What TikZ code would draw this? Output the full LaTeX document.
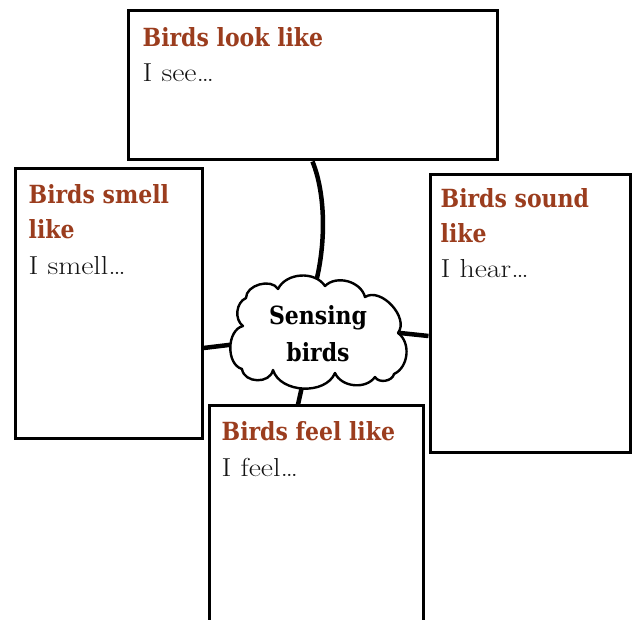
\documentclass[tikz,border=0pt]{standalone}
\usepackage{fontspec}
\newfontfamily\headfont{DejaVu Serif}[FakeStretch=0.88]
\newfontfamily\bodyfont{Latin Modern Roman}[FakeStretch=1.15]
\definecolor{titlebrown}{RGB}{155,61,30}
\definecolor{bodyink}{RGB}{20,20,20}
\begin{document}
\begin{tikzpicture}[x=1pt,y=-1pt,
  card/.style={draw=black, line width=3pt, fill=white, rectangle, inner sep=0pt},
  heading/.style={anchor=base west, inner sep=0pt, text=titlebrown,
    font=\headfont\bfseries\fontsize{25}{30}\selectfont},
  prompt/.style={anchor=base west, inner sep=0pt, text=bodyink,
    font=\bodyfont\fontsize{26}{30}\selectfont},
  link/.style={line width=4.5pt, draw=black},
  hubline/.style={draw=black, line width=2.4pt, fill=white, line join=round},
  hubtext/.style={anchor=base, inner sep=0pt,
    font=\headfont\bfseries\fontsize{25}{30}\selectfont}]
\useasboundingbox (0,0) rectangle (633,620);
\clip (0,0) rectangle (633,620);

% the four prompt cards
\node[card, minimum width=369pt, minimum height=149pt] (look)  at (312.5,85.5) {};
\node[card, minimum width=187pt, minimum height=270pt] (smell) at (108.5,304) {};
\node[card, minimum width=200pt, minimum height=278pt] (sound) at (530,314) {};
\node[card, minimum width=214pt, minimum height=254pt] (feel)  at (316,533) {};

% card texts
\node[heading] (lookT)  at ([shift={(16,37)}]look.north west) {Birds look like};
\node[prompt]  (lookB)  at ([shift={(16,72)}]look.north west) {I see…};

\node[heading] (smellT1) at ([shift={(15,36)}]smell.north west) {Birds smell};
\node[heading] (smellT2) at ([shift={(15,71)}]smell.north west) {like};
\node[prompt]  (smellB)  at ([shift={(15,107)}]smell.north west) {I smell…};

\node[heading] (soundT1) at ([shift={(12,34)}]sound.north west) {Birds sound};
\node[heading] (soundT2) at ([shift={(12,69)}]sound.north west) {like};
\node[prompt]  (soundB)  at ([shift={(12,104)}]sound.north west) {I hear…};

\node[heading] (feelT) at ([shift={(14,36)}]feel.north west) {Birds feel like};
\node[prompt]  (feelB) at ([shift={(14,72)}]feel.north west) {I feel…};

% points where the connectors meet the cloud
\coordinate (hubN) at (315,286);
\coordinate (hubW) at (237,344);
\coordinate (hubE) at (400,333);
\coordinate (hubS) at (303,382);

% connectors from the cards to the cloud
\draw[link] (look.south) .. controls (326,195) and (326,245) .. (hubN);
\draw[link] ([yshift=-44pt]smell.east) -- (hubW);
\draw[link] ([yshift=-22pt]sound.west) -- (hubE);
\draw[link] ([xshift=-18pt]feel.north) -- (hubS);

% central cloud, traced puff by puff
\path[hubline] (243,326) to[bend left=60] (246,298) to[bend left=75] (278,289)
  to[bend left=60] (325,286) to[bend left=60] (365,297)
  to[bend left=80] (398,333) to[bend left=60] (394,374)
  to[bend left=70] (375,377) to[bend left=60] (335,373)
  to[bend left=70] (273,370) to[bend left=80, looseness=1.2] (242,369)
  to[bend left=75] (243,326) -- cycle;
\node[hubtext] (hubT1) at (318,325) {Sensing};
\node[hubtext] (hubT2) at (318,362) {birds};
\end{tikzpicture}
\end{document}
